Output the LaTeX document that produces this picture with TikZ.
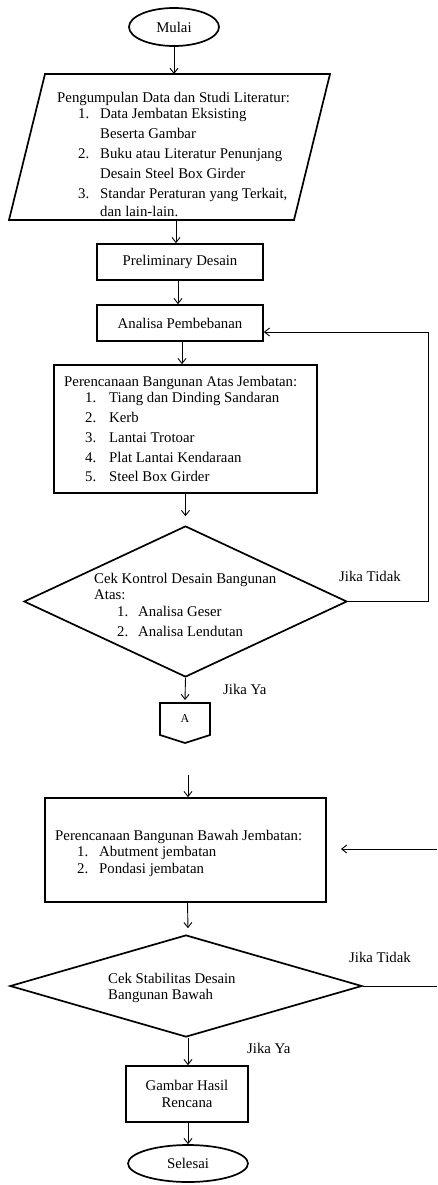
\documentclass[tikz,border=0pt]{standalone}
\usepackage{fontspec}
\setmainfont{Liberation Serif}
\usetikzlibrary{arrows.meta,shapes.geometric,calc}
\begin{document}
\begin{tikzpicture}[x=1pt,y=-1pt,
  txt/.style={font=\fontsize{14.8}{16.5}\selectfont},
  box/.style={draw,line width=1.7pt,rectangle,inner sep=0pt,txt,align=center},
  term/.style={draw,line width=1.7pt,ellipse,inner sep=0pt,txt},
  dec/.style={draw,line width=1.7pt,diamond,inner sep=0pt},
  blk/.style={anchor=north west,align=left,inner sep=0pt,txt},
  lbl/.style={anchor=base west,inner sep=0pt,txt},
  arr/.style={line width=0.9pt,-{Straight Barb[length=5pt,width=8pt]}},
  ln/.style={line width=0.9pt},
  shapeline/.style={line width=1.7pt,line join=miter},
]
\useasboundingbox (0,0) rectangle (437,1185);

% shapes
\node[term,minimum width=90pt,minimum height=38pt] (mulai) at (174,27) {Mulai};
\node[rectangle,inner sep=0pt,outer sep=0pt,minimum width=321pt,minimum height=146pt] (par) at (169.5,147) {};
\draw[shapeline] ($(par.north west)+(36,0)$) -- (par.north east) -- ($(par.south east)+(-36,0)$) -- (par.south west) -- cycle;
\node[blk] (partext) at (57,92) {Pengumpulan Data dan Studi Literatur:\\
\hspace*{21pt}\makebox[22pt][l]{1.}Data Jembatan Eksisting\\[3.5pt]
\hspace*{43pt}Beserta Gambar\\[3.5pt]
\hspace*{21pt}\makebox[22pt][l]{2.}Buku atau Literatur Penunjang\\[3pt]
\hspace*{43pt}Desain Steel Box Girder\\[3.5pt]
\hspace*{21pt}\makebox[22pt][l]{3.}Standar Peraturan yang Terkait,\\[2pt]
\hspace*{43pt}dan lain-lain.};

\node[box,minimum width=166pt,minimum height=36pt] (prelim) at (180,262) {Preliminary Desain};
\node[box,minimum width=166pt,minimum height=36pt] (analisa) at (180,323) {Analisa Pembebanan};

\node[box,minimum width=263pt,minimum height=128pt] (atas) at (185.5,429) {};
\node[blk] (atastext) at (64,376) {Perencanaan Bangunan Atas Jembatan:\\
\hspace*{21pt}\makebox[24pt][l]{1.}Tiang dan Dinding Sandaran\\[3.5pt]
\hspace*{21pt}\makebox[24pt][l]{2.}Kerb\\[3.5pt]
\hspace*{21pt}\makebox[24pt][l]{3.}Lantai Trotoar\\[3pt]
\hspace*{21pt}\makebox[24pt][l]{4.}Plat Lantai Kendaraan\\[2.5pt]
\hspace*{21pt}\makebox[24pt][l]{5.}Steel Box Girder};

\node[dec,minimum width=323pt,minimum height=151pt] (d1) at (185.5,601.5) {};
\node[blk] (d1text) at (94,573) {Cek Kontrol Desain Bangunan\\
Atas:\\
\hspace*{23pt}\makebox[21pt][l]{1.}Analisa Geser\\[3.5pt]
\hspace*{23pt}\makebox[21pt][l]{2.}Analisa Lendutan};

\node[rectangle,inner sep=0pt,outer sep=0pt,minimum width=50pt,minimum height=32pt,font=\fontsize{12}{14}\selectfont] (Abox) at (185,719) {A};
\draw[shapeline] (Abox.north west) -- (Abox.north east) -- (Abox.south east) -- ($(Abox.south)+(0,8)$) -- (Abox.south west) -- cycle;

\node[box,minimum width=281pt,minimum height=104pt] (bawah) at (185.5,850) {};
\node[blk] (bawahtext) at (55,830) {Perencanaan Bangunan Bawah Jembatan:\\
\hspace*{22pt}\makebox[22pt][l]{1.}Abutment jembatan\\
\hspace*{22pt}\makebox[22pt][l]{2.}Pondasi jembatan};

\node[dec,minimum width=352pt,minimum height=102pt] (d2) at (186,986) {};
\node[blk] (d2text) at (108,973) {Cek Stabilitas Desain\\Bangunan Bawah};

\node[box,minimum width=122pt,minimum height=56pt] (gambar) at (187,1094) {Gambar Hasil\\Rencana};
\node[term,minimum width=120pt,minimum height=37pt] (selesai) at (188,1163.5) {Selesai};

% labels
\node[lbl] (t1) at (339,581) {Jika Tidak};
\node[lbl] (y1) at (223,694) {Jika Ya};
\node[lbl] (t2) at (349,962) {Jika Tidak};
\node[lbl] (y2) at (247,1053) {Jika Ya};

% connectors
\draw[arr] (mulai.south) -- (mulai.south |- par.north);
\draw[arr] ([xshift=-4pt]prelim.north |- par.south) -- ([xshift=-4pt]prelim.north);
\draw[arr] ([xshift=-2pt]prelim.south) -- ([xshift=-2pt]analisa.north);
\draw[arr] ([xshift=2pt]analisa.south) -- ([xshift=2pt]analisa.south |- atas.north);
\draw[arr] (atas.south -| d1.north) -- ([yshift=9pt]d1.north);
\coordinate (r1) at (428,332);
\draw[arr] (d1.east) -| (r1) -- (r1 -| analisa.east);
\draw[arr] (d1.south) -- ([yshift=3pt]Abox.north);

\coordinate (a2) at (188,775);
\draw[arr] (a2) -- (a2 |- bawah.north);
\coordinate (r3) at (437,849);
\coordinate (r4) at (341,849);
\draw[arr] (r3) -- (r4);
\draw[arr] ([xshift=2pt]bawah.south) -- ([xshift=2pt,yshift=6pt]d2.north);
\coordinate (r2) at (437,986);
\draw[ln] (d2.east) -- (r2);
\draw[arr] ([xshift=2pt]d2.south) -- ([xshift=1pt]gambar.north);
\draw[arr] ([xshift=1pt]gambar.south) -- (selesai.north);
\end{tikzpicture}
\end{document}
